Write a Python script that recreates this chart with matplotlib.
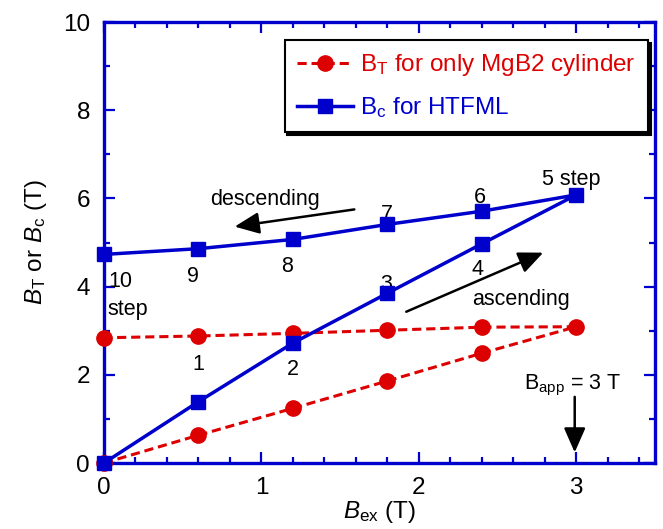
import matplotlib
matplotlib.use("Agg")
import matplotlib.pyplot as plt
from matplotlib.ticker import MultipleLocator

plt.rcParams['font.family'] = ['Liberation Sans', 'DejaVu Sans']
plt.rcParams['mathtext.fontset'] = 'custom'
plt.rcParams['mathtext.rm'] = 'Liberation Sans'
plt.rcParams['mathtext.it'] = 'Liberation Sans:italic'

# data
bex = [0, 0.6, 1.2, 1.8, 2.4, 3.0, 2.4, 1.8, 1.2, 0.6, 0.0]
bt = [0, 0.63, 1.24, 1.86, 2.49, 3.09, 3.08, 3.01, 2.94, 2.88, 2.84]
bc = [0, 1.39, 2.72, 3.85, 4.97, 6.08, 5.71, 5.41, 5.07, 4.86, 4.73]
step_labels = ["1", "2", "3", "4", "5 step", "6", "7", "8", "9", "10", "step"]
step_pos = [(0.6, 2.23), (1.2, 2.11), (1.79, 4.05), (2.37, 4.39), (2.97, 6.43),
            (2.39, 6.02), (1.80, 5.64), (1.165, 4.45), (0.565, 4.23), (0.025, 4.11),
            (0.025, 3.48)]

red = '#dd0000'
blue = '#0000cc'

fig = plt.figure(figsize=(6.63, 5.29), dpi=100)
ax = fig.add_axes([104/663, 66/529, 551/663, 441/529])

ax.plot(bex, bt, color=red, linestyle=(0, (3, 1.6)), linewidth=2.2, marker='o',
        markersize=11, label=r'B$_\mathrm{T}$ for only MgB2 cylinder', zorder=3, clip_on=False)
ax.plot(bex, bc, color=blue, linestyle='-', linewidth=2.5, marker='s',
        markersize=10, label=r'B$_\mathrm{c}$ for HTFML', zorder=4, clip_on=False)

ax.set_xlim(0, 3.5)
ax.set_ylim(0, 10)
ax.xaxis.set_major_locator(MultipleLocator(1))
ax.xaxis.set_minor_locator(MultipleLocator(0.2))
ax.yaxis.set_major_locator(MultipleLocator(2))
ax.yaxis.set_minor_locator(MultipleLocator(1))
ax.tick_params(which='both', direction='in', top=True, right=True, color=blue,
               labelsize=17.5, width=1.6)
ax.tick_params(which='major', length=8, pad=10)
ax.tick_params(which='minor', length=4.5)
for s in ax.spines.values():
    s.set_color(blue)
    s.set_linewidth(2.4)

ax.set_xlabel(r'$B_\mathrm{ex}$ (T)', fontsize=17.5, labelpad=0)
ax.set_ylabel(r'$B_\mathrm{T}$ or $B_\mathrm{c}$ (T)', fontsize=17.5, labelpad=10)

for lab, (x, y) in zip(step_labels, step_pos):
    if lab in ("10", "step"):
        ax.text(x, y, lab, fontsize=15.5, ha='left', va='center')
    else:
        ax.text(x, y, lab, fontsize=15.5, ha='center', va='center')

arrow_kw = dict(arrowstyle='-|>,head_length=0.5,head_width=0.22', color='black',
                lw=1.8, mutation_scale=30, shrinkA=0, shrinkB=0)
ax.text(1.02, 5.98, 'descending', fontsize=15.5, ha='center', va='center')
ax.text(2.65, 3.7, 'ascending', fontsize=15.5, ha='center', va='center')
ax.annotate('', xy=(0.83, 5.36), xytext=(1.59, 5.75), arrowprops=arrow_kw)
ax.annotate('', xy=(2.79, 4.77), xytext=(1.92, 3.43), arrowprops=arrow_kw)
ax.text(2.98, 1.75, r'B$_\mathrm{app}$ = 3 T', fontsize=15.5, ha='center', va='center')
ax.annotate('', xy=(2.99, 0.24), xytext=(2.99, 1.5), arrowprops=arrow_kw)

leg = ax.legend(loc='upper right', bbox_to_anchor=(0.987, 0.959), borderaxespad=0,
                fontsize=17.5, fancybox=False, shadow={'color': 'black', 'alpha': 1},
                edgecolor='black', framealpha=1, handlelength=2.3, handletextpad=0.3,
                borderpad=0.5, labelspacing=0.7)
leg.get_frame().set_linewidth(1.5)
for t, c in zip(leg.get_texts(), [red, blue]):
    t.set_color(c)

fig.savefig('out.png', dpi=100)
